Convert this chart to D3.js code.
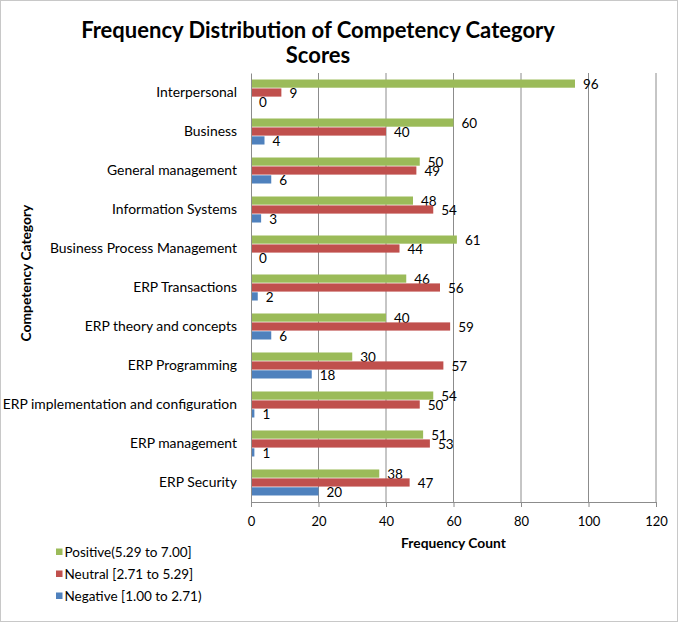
<!DOCTYPE html>
<html>
<head>
<meta charset="utf-8">
<script src="https://cdn.jsdelivr.net/npm/d3@7"></script>
<style>
  body { margin: 0; background: #fff; }
  text { font-family: Lato, "Open Sans", sans-serif; fill: #000; }
</style>
</head>
<body>
<div id="chart"></div>
<script>
const categories = [
  'Interpersonal', 'Business', 'General management', 'Information Systems',
  'Business Process Management', 'ERP Transactions', 'ERP theory and concepts',
  'ERP Programming', 'ERP implementation and configuration', 'ERP management', 'ERP Security'
];
const positive = [96, 60, 50, 48, 61, 46, 40, 30, 54, 51, 38];
const neutral  = [9, 40, 49, 54, 44, 56, 59, 57, 50, 53, 47];
const negative = [0, 4, 6, 3, 0, 2, 6, 18, 1, 1, 20];
const seriesNames = ['Positive(5.29 to 7.00]', 'Neutral [2.71 to 5.29]', 'Negative [1.00 to 2.71)'];
const seriesColors = ['#9BBB59', '#C0504D', '#4F81BD'];
const xTicks = [0, 20, 40, 60, 80, 100, 120];

const W = 680, H = 625;
const margin = { top: 73, right: 24, bottom: 123, left: 251 };
const innerW = W - margin.left - margin.right;
const innerH = H - margin.top - margin.bottom;

const series = [positive, neutral, negative];

const svg = d3.select('#chart').append('svg')
  .attr('width', W)
  .attr('height', H);

// outer chart border
svg.append('rect')
  .attr('x', 0.5).attr('y', 0.5)
  .attr('width', W - 3).attr('height', H - 4)
  .attr('fill', '#fff')
  .attr('stroke', '#c8c8c8');

// title
const title = svg.append('text')
  .attr('text-anchor', 'middle')
  .style('font-size', '22px')
  .style('font-weight', 'bold');
title.append('tspan').attr('x', 318).attr('y', 38).text('Frequency Distribution of Competency Category');
title.append('tspan').attr('x', 318).attr('y', 63).text('Scores');

const g = svg.append('g')
  .attr('transform', `translate(${margin.left},${margin.top})`);

const x = d3.scaleLinear().domain([0, 120]).range([0, innerW]);
const y = d3.scaleBand().domain(categories).range([0, innerH])
  .paddingInner(0.333).paddingOuter(0.167);
const ySub = d3.scaleBand().domain([0, 1, 2]).range([0, y.bandwidth()]).paddingInner(0.08);

// gridlines
g.append('g')
  .selectAll('line')
  .data(xTicks.filter(t => t > 0))
  .join('line')
  .attr('x1', d => x(d)).attr('x2', d => x(d))
  .attr('y1', 0).attr('y2', innerH)
  .attr('stroke', '#8c8c8c')
  .attr('stroke-width', 1);

// bars
categories.forEach((cat, i) => {
  const grp = g.append('g').attr('transform', `translate(0,${y(cat)})`);
  series.forEach((vals, s) => {
    const v = vals[i];
    grp.append('rect')
      .attr('x', 0)
      .attr('y', ySub(s))
      .attr('width', x(v))
      .attr('height', ySub.bandwidth())
      .attr('fill', seriesColors[s]);
    grp.append('text')
      .attr('x', x(v) + 8)
      .attr('y', ySub(s) + ySub.bandwidth() / 2 + 1)
      .attr('dy', '0.35em')
      .style('font-size', '13.5px')
      .text(v);
  });
});

// x axis
const xAxis = g.append('g')
  .attr('transform', `translate(0,${innerH})`)
  .call(d3.axisBottom(x).tickValues(xTicks).tickSizeOuter(0).tickSize(5).tickPadding(10));
xAxis.select('.domain').attr('stroke', '#8c8c8c');
xAxis.selectAll('.tick line').attr('stroke', '#8c8c8c');
xAxis.selectAll('.tick text')
  .style('font-size', '13px')
  .style('font-family', 'Lato, sans-serif')
  .attr('fill', '#000');

// y axis
const yAxis = g.append('g')
  .call(d3.axisLeft(y).tickSize(0).tickPadding(14));
yAxis.select('.domain').attr('stroke', '#8c8c8c');
yAxis.selectAll('.tick text')
  .style('font-size', '13.9px')
  .style('font-family', 'Lato, sans-serif')
  .attr('fill', '#000');

// axis titles
svg.append('text')
  .attr('x', margin.left + x(60))
  .attr('y', 548)
  .attr('text-anchor', 'middle')
  .style('font-size', '13.8px')
  .style('font-weight', 'bold')
  .text('Frequency Count');

svg.append('text')
  .attr('transform', `translate(31,${273}) rotate(-90)`)
  .attr('text-anchor', 'middle')
  .style('font-size', '13.8px')
  .style('font-weight', 'bold')
  .text('Competency Category');

// legend
const legend = svg.append('g').attr('transform', 'translate(56,552)');
seriesNames.forEach((name, i) => {
  const item = legend.append('g').attr('transform', `translate(0,${i * 22})`);
  item.append('rect')
    .attr('x', 0).attr('y', -3.5)
    .attr('width', 6.5).attr('height', 6.5)
    .attr('fill', seriesColors[i]);
  item.append('text')
    .attr('x', 8.5).attr('y', 0)
    .attr('dy', '0.35em')
    .style('font-size', '13.5px')
    .text(name);
});
</script>
</body>
</html>
